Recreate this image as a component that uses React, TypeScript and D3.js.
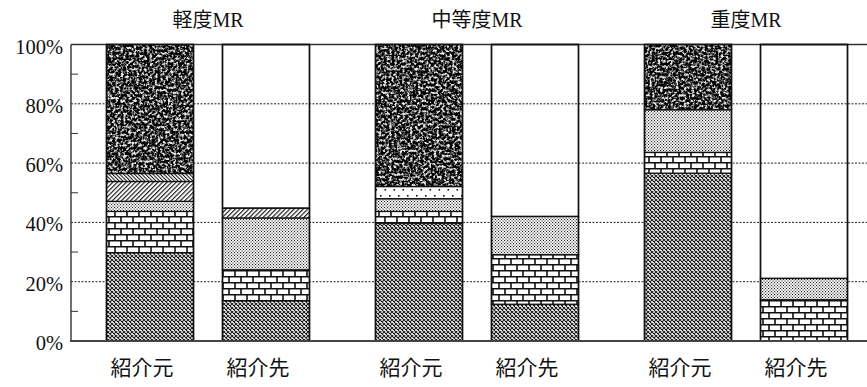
import React from "react";
import * as d3 from "d3";

// Groups (severity) and the two bars in each group
const groups = ["軽度MR", "中等度MR", "重度MR"];
const roles = ["紹介元", "紹介先"];

// Percent shares per bar, order: 軽度 元, 軽度 先, 中等度 元, 中等度 先, 重度 元, 重度 先
const crossVals = [29.8, 13.6, 39.8, 12.4, 56.6, 0];
const brickVals = [13.9, 10.4, 3.9, 16.7, 7.0, 13.9];
const stippleVals = [3.4, 17.5, 4.3, 12.9, 14.4, 7.2];
const dotVals = [0, 0, 4.1, 0, 0, 0];
const hatchVals = [6.7, 3.3, 0, 0, 0, 0];
const fineHatchVals = [2.7, 0, 0, 0, 0, 0];
const noiseVals = [43.5, 0, 47.9, 0, 22.0, 0];
const blankVals = [0, 55.2, 0, 58.0, 0, 78.9];

const seriesKeys = ["cross", "brick", "stipple", "dots", "hatch", "fineHatch", "noise", "blank"];
const seriesValues: Record<string, number[]> = {
  cross: crossVals,
  brick: brickVals,
  stipple: stippleVals,
  dots: dotVals,
  hatch: hatchVals,
  fineHatch: fineHatchVals,
  noise: noiseVals,
  blank: blankVals,
};

const yTicks = [0, 20, 40, 60, 80, 100];
const yMinorTicks = [10, 30, 50, 70, 90];

const W = 867;
const H = 387;
const axisX = 71;
const plotTop = 44.5;
const plotBottom = 341;

const FONT = "'Liberation Serif', 'DejaVu Serif', 'Noto Sans CJK JP', serif";

const fillFor: Record<string, string> = {
  cross: "url(#pCross)",
  brick: "url(#pBrick)",
  stipple: "url(#pStipple)",
  dots: "url(#pDots)",
  hatch: "url(#pHatch)",
  fineHatch: "url(#pFineHatch)",
  noise: "#262626",
  blank: "none",
};

export default function App() {
  const rows = groups.flatMap((g, gi) =>
    roles.map((r, ri) => {
      const idx = gi * 2 + ri;
      const row: any = { group: g, role: r };
      seriesKeys.forEach((k) => (row[k] = seriesValues[k][idx]));
      return row;
    })
  );

  const stacked = d3.stack<any>().keys(seriesKeys)(rows);

  const x0 = d3
    .scaleBand<string>()
    .domain(groups)
    .range([106.5, 847.5])
    .paddingInner(0.2454)
    .paddingOuter(0);
  const x1 = d3
    .scaleBand<string>()
    .domain(roles)
    .range([0, x0.bandwidth()])
    .paddingInner(0.25);
  const y = d3.scaleLinear().domain([0, 100]).range([plotBottom, plotTop]);

  const barX = (row: any) => (x0(row.group) as number) + (x1(row.role) as number);
  const bw = x1.bandwidth();

  return (
    <svg
      width={W}
      height={H}
      style={{ position: "absolute", left: 0, top: 0, display: "block", background: "#fff" }}
      fontFamily={FONT}
    >
      <defs>
        <pattern id="pCross" width="4" height="4" patternUnits="userSpaceOnUse">
          <rect width="4" height="4" fill="#fff" />
          <path d="M0,0 L4,4 M4,0 L0,4" stroke="#1a1a1a" strokeWidth="1.1" />
        </pattern>
        <pattern id="pBrick" width="12" height="12" patternUnits="userSpaceOnUse">
          <rect width="12" height="12" fill="#fff" />
          <path
            d="M0,0.75 H12 M0,6.75 H12 M1,0.75 V6.75 M7,6.75 V12.75"
            stroke="#111"
            strokeWidth="1.6"
          />
        </pattern>
        <pattern id="pStipple" width="3" height="3" patternUnits="userSpaceOnUse">
          <rect width="3" height="3" fill="#fff" />
          <rect x="0" y="0" width="1.1" height="1.1" fill="#222" />
          <rect x="1.5" y="1.5" width="1.1" height="1.1" fill="#222" />
        </pattern>
        <pattern id="pDots" width="9" height="12" patternUnits="userSpaceOnUse">
          <rect width="9" height="12" fill="#fff" />
          <rect x="2" y="3" width="1.6" height="1.6" fill="#111" />
          <rect x="6.5" y="9" width="1.6" height="1.6" fill="#111" />
        </pattern>
        <pattern
          id="pHatch"
          width="3.2"
          height="3.2"
          patternUnits="userSpaceOnUse"
          patternTransform="rotate(45)"
        >
          <rect width="3.2" height="3.2" fill="#fff" />
          <line x1="0.6" y1="0" x2="0.6" y2="3.2" stroke="#111" strokeWidth="1.1" />
        </pattern>
        <pattern
          id="pFineHatch"
          width="2.6"
          height="2.6"
          patternUnits="userSpaceOnUse"
          patternTransform="rotate(-45)"
        >
          <rect width="2.6" height="2.6" fill="#fff" />
          <line x1="0.5" y1="0" x2="0.5" y2="2.6" stroke="#111" strokeWidth="1" />
        </pattern>
        <filter id="fNoise" x="0" y="0" width="100%" height="100%" colorInterpolationFilters="sRGB">
          <feTurbulence type="fractalNoise" baseFrequency="0.38" numOctaves="3" seed="11" result="t" />
          <feColorMatrix
            in="t"
            type="matrix"
            values="1 0 0 0 0  1 0 0 0 0  1 0 0 0 0  0 0 0 0 1"
            result="g"
          />
          <feComponentTransfer in="g" result="th">
            <feFuncR type="linear" slope="3.6" intercept="-1.55" />
            <feFuncG type="linear" slope="3.6" intercept="-1.55" />
            <feFuncB type="linear" slope="3.6" intercept="-1.55" />
          </feComponentTransfer>
          <feComposite in="th" in2="SourceGraphic" operator="in" />
        </filter>
      </defs>

      {/* dotted gridlines */}
      {yTicks
        .filter((t) => t > 0 && t < 100)
        .map((t) => (
          <line
            key={`g${t}`}
            x1={axisX}
            x2={W}
            y1={y(t)}
            y2={y(t)}
            stroke="#222"
            strokeWidth={1}
            strokeDasharray="2,1.5"
          />
        ))}

      {/* top line at 100% */}
      <line x1={axisX} x2={W} y1={y(100)} y2={y(100)} stroke="#333" strokeWidth={1.3} />

      {/* stacked bars */}
      {stacked.map((s) =>
        s.map((d, i) => {
          const h = y(d[0]) - y(d[1]);
          if (h <= 0) return null;
          const row = rows[i];
          const key = `${s.key}-${i}`;
          const xx = barX(row);
          return (
            <g key={key}>
              {s.key === "noise" ? (
                <>
                  <rect x={xx} y={y(d[1])} width={bw} height={h} fill="#262626" />
                  <rect
                    x={xx}
                    y={y(d[1])}
                    width={bw}
                    height={h}
                    fill="#000"
                    filter="url(#fNoise)"
                    opacity={0.9}
                  />
                </>
              ) : (
                <rect x={xx} y={y(d[1])} width={bw} height={h} fill={fillFor[s.key]} />
              )}
              <rect
                x={xx}
                y={y(d[1])}
                width={bw}
                height={h}
                fill="none"
                stroke="#111"
                strokeWidth={1.3}
              />
            </g>
          );
        })
      )}

      {/* bar outlines */}
      {rows.map((row, i) => (
        <rect
          key={`o${i}`}
          x={barX(row)}
          y={y(100)}
          width={bw}
          height={y(0) - y(100)}
          fill="none"
          stroke="#111"
          strokeWidth={1.5}
        />
      ))}

      {/* y axis */}
      <line x1={axisX} x2={axisX} y1={y(100)} y2={y(0)} stroke="#222" strokeWidth={1.3} />
      <line x1={axisX - 1} x2={W} y1={y(0)} y2={y(0)} stroke="#444" strokeWidth={2} />
      {yMinorTicks.map((t) => (
        <line key={`m${t}`} x1={axisX} x2={axisX + 7} y1={y(t)} y2={y(t)} stroke="#333" strokeWidth={1} />
      ))}
      {yTicks.map((t) => (
        <text
          key={`t${t}`}
          x={63}
          y={y(t) + 2}
          textAnchor="end"
          dominantBaseline="central"
          fontSize={20.5}
          fill="#111"
        >
          {`${t}%`}
        </text>
      ))}

      {/* group titles */}
      {groups.map((g) => (
        <text
          key={`h${g}`}
          x={(x0(g) as number) + x0.bandwidth() / 2}
          y={20}
          textAnchor="middle"
          dominantBaseline="central"
          fontSize={20}
          fill="#111"
        >
          {g}
        </text>
      ))}

      {/* bar labels */}
      {rows.map((row, i) => (
        <text
          key={`l${i}`}
          x={barX(row) + bw / 2 - 8}
          y={368}
          textAnchor="middle"
          dominantBaseline="central"
          fontSize={21}
          fill="#111"
        >
          {row.role}
        </text>
      ))}
    </svg>
  );
}
